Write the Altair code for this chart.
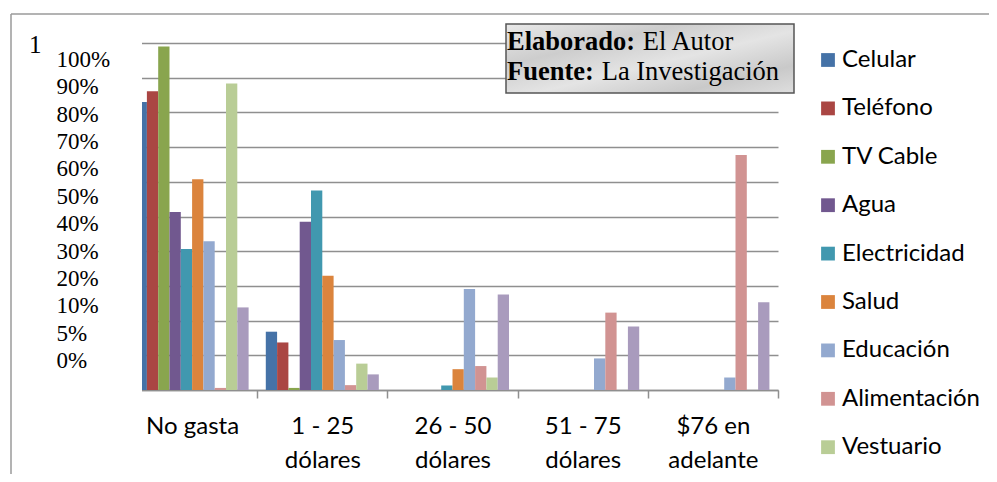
import json
import altair as alt
import pandas as pd

# ---------------- data ----------------
categories = ["No gasta", "1 - 25\ndólares", "26 - 50\ndólares", "51 - 75\ndólares", "$76 en\nadelante"]
series = ["Celular", "Teléfono", "TV Cable", "Agua", "Electricidad", "Salud",
          "Educación", "Alimentación", "Vestuario", "Otros"]
colors = ["#4572A7", "#AA4643", "#89A54E", "#71588F", "#4198AF", "#DB843D",
          "#93A9CF", "#D19392", "#B9CD96", "#A99BBD"]

celular = [83.0, 16.8, 0.0, 0.0, 0.0]
telefono = [86.1, 13.7, 0.0, 0.0, 0.0]
tv_cable = [99.0, 0.6, 0.0, 0.0, 0.0]
agua = [51.3, 48.5, 0.0, 0.0, 0.0]
electricidad = [40.6, 57.5, 1.3, 0.0, 0.0]
salud = [60.7, 32.9, 6.0, 0.0, 0.0]
educacion = [42.9, 14.4, 29.1, 9.1, 3.6]
alimentacion = [0.6, 1.4, 6.9, 22.3, 67.7]
vestuario = [88.3, 7.6, 3.6, 0.0, 0.0]
otros = [23.8, 4.5, 27.5, 18.3, 25.3]

series_values = [celular, telefono, tv_cable, agua, electricidad, salud,
                 educacion, alimentacion, vestuario, otros]

y_tick_labels = ["0%", "5%", "10%", "20%", "30%", "40%", "50%",
                 "60%", "70%", "80%", "90%", "100%"]

legend_series = series[:9]

rows = []
for s, vals in zip(series, series_values):
    for c, v in zip(categories, vals):
        rows.append({"cat": c, "serie": s, "val": v})
df = pd.DataFrame(rows)

ylab = pd.DataFrame({"idx": list(range(len(y_tick_labels))), "lab": y_tick_labels})
one = pd.DataFrame({"k": [0]})

W, H = 651, 347
GRID = "#8f8f8f"

bars = alt.Chart(df).mark_bar().encode(
    x=alt.X(
        "cat:N", sort=categories, title=None,
        scale=alt.Scale(paddingInner=0, paddingOuter=0),
        axis=alt.Axis(
            labelExpr="split(datum.label, '\\n')", labelAngle=0,
            labelFont="Lato", labelFontSize=24, labelColor="black",
            labelPadding=16, labelLineHeight=34, tickBand="extent",
            tickSize=8, tickColor=GRID, tickWidth=1.5,
            domainColor=GRID, domainWidth=1.5, grid=False, zindex=0,
        ),
    ),
    xOffset=alt.XOffset("serie:N", sort=series,
                        scale=alt.Scale(domain=series, paddingInner=0, paddingOuter=0.76)),
    y=alt.Y(
        "val:Q", title=None,
        scale=alt.Scale(domain=[0, 100], nice=False),
        axis=alt.Axis(orient="left", values=list(range(0, 101, 10)), grid=True,
                      labels=False, ticks=False, domain=False,
                      gridColor=GRID, gridWidth=1.4, zindex=0),
    ),
    color=alt.Color(
        "serie:N",
        scale=alt.Scale(domain=series, range=colors),
        legend=alt.Legend(
            values=legend_series, orient="none", legendX=689, legendY=5,
            title=None, labelFont="Lato", labelFontSize=24, labelColor="black",
            symbolType="square", symbolSize=190, symbolStrokeWidth=0,
            rowPadding=24.4, labelOffset=2, padding=0, labelLimit=300,
        ),
    ),
)

fake_axis = alt.Chart(ylab).mark_point(opacity=0).encode(
    y=alt.Y(
        "idx:Q", title=None,
        scale=alt.Scale(domain=[-1.068, 11.593], nice=False, zero=False),
        axis=alt.Axis(
            orient="left", values=list(range(len(y_tick_labels))),
            labelExpr=json.dumps(y_tick_labels) + "[datum.value]",
            labelFont="Liberation Serif", labelFontSize=23, labelColor="black",
            labelAlign="left", labelBaseline="middle", labelPadding=71,
            ticks=False, tickSize=0, domain=False, grid=False,
            labelOverlap=False, labelFlush=False, zindex=2,
        ),
    )
)

mask = alt.Chart(one).mark_rect(color="white").encode(
    x=alt.value(-82), x2=alt.value(15), y=alt.value(-9), y2=alt.value(356)
)

frame_top = alt.Chart(one).mark_rule(color="#9a9a9a", strokeWidth=1.5).encode(
    x=alt.value(-116), x2=alt.value(880), y=alt.value(-29)
)
frame_left = alt.Chart(one).mark_rule(color="#9a9a9a", strokeWidth=1.5).encode(
    x=alt.value(-116), y=alt.value(-29), y2=alt.value(460)
)

box_fill = alt.Gradient(
    gradient="linear",
    stops=[alt.GradientStop(color="#e9e9e9", offset=0),
           alt.GradientStop(color="#cdcdcd", offset=0.3),
           alt.GradientStop(color="#e4e4e4", offset=0.55),
           alt.GradientStop(color="#c9c9c9", offset=0.8),
           alt.GradientStop(color="#dedede", offset=1)],
    x1=0, x2=1, y1=0, y2=1,
)
box = alt.Chart(one).mark_rect(fill=box_fill, stroke="#555555", strokeWidth=1.5).encode(
    x=alt.value(379), x2=alt.value(667), y=alt.value(-19), y2=alt.value(50)
)

def txt(t, x, y, bold=False, size=26.5):
    return alt.Chart(one).mark_text(
        text=t, font="Liberation Serif", fontSize=size,
        fontWeight="bold" if bold else "normal",
        align="left", baseline="middle", color="black",
    ).encode(x=alt.value(x), y=alt.value(y))

texts = [
    txt("Elaborado:", 380, -1, bold=True),
    txt("El Autor", 515.7, -1),
    txt("Fuente:", 380, 29, bold=True),
    txt("La Investigación", 474.7, 29),
    txt("1", -98, 2, size=25),
]

chart = alt.layer(bars, fake_axis, mask, frame_top, frame_left, box, *texts).resolve_scale(
    y="independent"
).properties(
    width=W, height=H,
    autosize=alt.AutoSizeParams(type="none"),
    padding={"left": 119, "top": 35, "right": 211, "bottom": 84},
).configure_view(stroke=None)

chart.save("out.html", embed_options={"renderer": "svg", "actions": False})
